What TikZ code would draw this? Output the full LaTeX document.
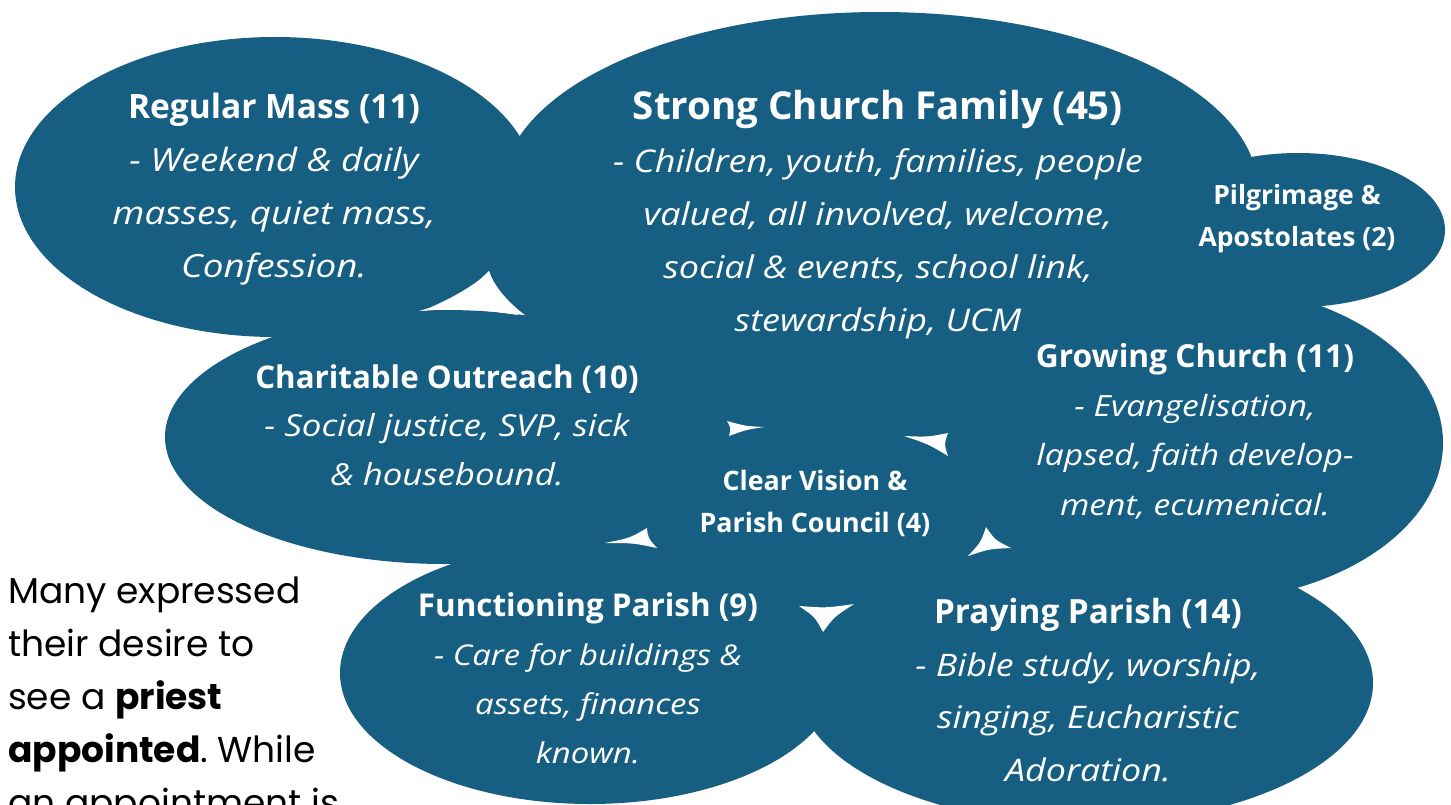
\documentclass[tikz,border=0pt]{standalone}
\usepackage{fontspec}
\setmainfont{Open Sans}[ItalicFeatures={FakeStretch=1.15}]
\newfontfamily\notefont{Poppins}
\definecolor{parishblue}{RGB}{23,95,130}
\frenchspacing
\begin{document}
\begin{tikzpicture}[x=1pt,y=-1pt,
    blob/.style={fill=parishblue},
    gap/.style={fill=white},
    lbl/.style={text=white,align=center,inner sep=0pt},
    body/.style 2 args={lbl,font=\fontsize{#1}{#2}\selectfont\itshape}]
\useasboundingbox (0,0) rectangle (1451,805);
\clip (0,0) rectangle (1451,805);
% the cloud
\fill[blob] (815,440) ellipse [x radius=330, y radius=175];
\fill[blob] (800,250) ellipse [x radius=315, y radius=133];
\fill[blob] (275,187) ellipse [x radius=260, y radius=150];
\fill[blob] (880,190) ellipse [x radius=378, y radius=178];
\fill[blob] (1298,230) ellipse [x radius=147, y radius=77];
\fill[blob] (445,437) ellipse [x radius=280, y radius=127];
\fill[blob] (1195,443) ellipse [x radius=248, y radius=159];
\fill[blob] (590,673) ellipse [x radius=250, y radius=131];
\fill[blob] (1085,683) ellipse [x radius=288, y radius=141];
% gaps between the lobes
\fill[gap] (419,311) .. controls (458,300) .. (489,271) .. controls (498,296) .. (518,315) .. controls (468,308) .. cycle;
\fill[gap] (727,421) .. controls (745,426) .. (764,427) .. controls (745,430) .. (729,436) .. controls (731,428) .. cycle;
\fill[gap] (904,436) .. controls (928,437) .. (948,433) .. controls (944,444) .. (948,456) .. controls (928,444) .. cycle;
\fill[gap] (605,543) .. controls (630,538) .. (647,528) .. controls (648,538) .. (657,548) .. controls (633,543) .. cycle;
\fill[gap] (968,556) .. controls (981,542) .. (986,527) .. controls (995,540) .. (1011,548) .. controls (989,549) .. cycle;
\fill[gap] (799,606) .. controls (826,608) .. (854,604) .. controls (834,617) .. (823,632) .. controls (815,617) .. cycle;
% labels
\node[body={32}{53}] (mass) at (274,189) {{\fontsize{33.5}{33.5}\selectfont\upshape\bfseries Regular Mass (11)}\\- Weekend \& daily\\masses, quiet mass,\\Confession.};
\node[body={31.3}{53}] (family) at (878,215) {{\fontsize{38.5}{38.5}\selectfont\upshape\bfseries Strong Church Family (45)}\\- Children, youth, families, people\\valued, all involved, welcome,\\social \& events, school link,\\stewardship, UCM};
\node[lbl,font=\fontsize{26.5}{42}\selectfont\bfseries] (pilgrim) at (1297,219) {Pilgrimage \&\\Apostolates (2)};
\node[body={30.3}{48.5}] (outreach) at (447,425) {{\fontsize{31.3}{31.3}\selectfont\upshape\bfseries Charitable Outreach (10)}\\- Social justice, SVP, sick\\\& housebound.};
\node[body={29.2}{49.3}] (growing) at (1195,431) {{\fontsize{31.7}{31.7}\selectfont\upshape\bfseries Growing Church (11)}\\- Evangelisation,\\lapsed, faith develop-\\ment, ecumenical.};
\node[lbl,font=\fontsize{26.8}{42}\selectfont\bfseries] (vision) at (815,503) {Clear Vision \&\\Parish Council (4)};
\node[body={28.6}{49}] (functioning) at (588,678) {{\fontsize{31.4}{31.4}\selectfont\upshape\bfseries Functioning Parish (9)}\\- Care for buildings \&\\assets, finances\\known.};
\node[body={31.1}{52.7}] (praying) at (1088,690) {{\fontsize{33.3}{33.3}\selectfont\upshape\bfseries Praying Parish (14)}\\- Bible study, worship,\\singing, Eucharistic\\Adoration.};
\node[anchor=north west,align=left,inner sep=0pt,font=\notefont\fontsize{36}{53}\selectfont] (note) at (8,577)
  {Many expressed\\their desire to\\see a \textbf{priest}\\\textbf{appointed}. While\\an appointment is};
\end{tikzpicture}
\end{document}
